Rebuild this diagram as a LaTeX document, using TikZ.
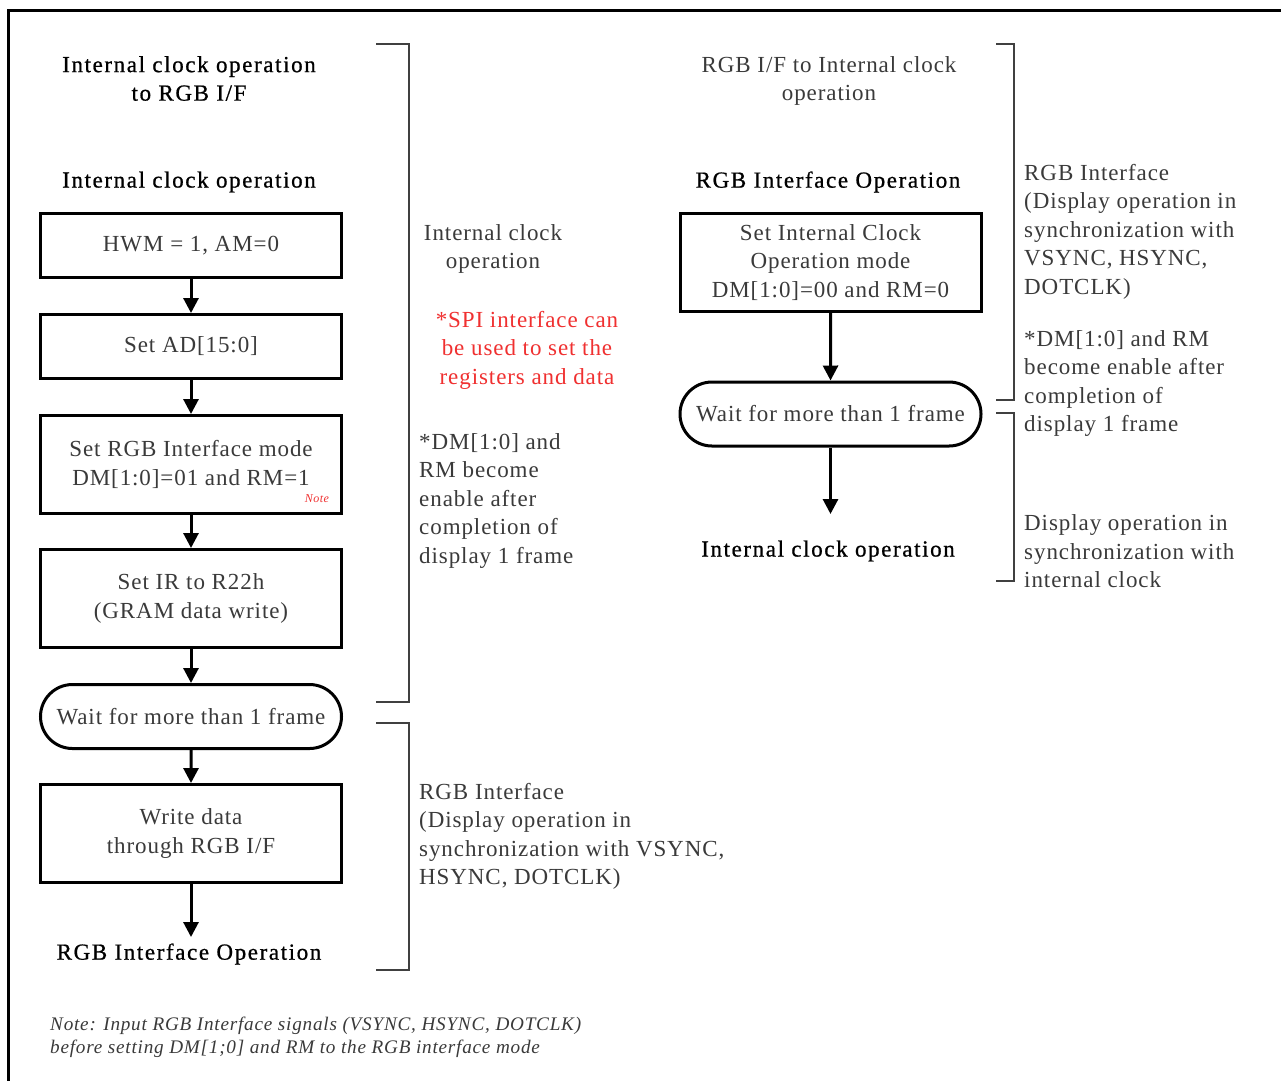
\documentclass[tikz,border=0pt]{standalone}
\usepackage{fontspec}
\setmainfont{Liberation Serif}[LetterSpace=4]
\newfontfamily\headfont{Liberation Serif}[LetterSpace=7, FakeBold=0.8]
\usetikzlibrary{arrows.meta,shapes.misc}
\definecolor{txtgray}{HTML}{3A3A3A}
\definecolor{redtxt}{HTML}{F03030}
\definecolor{brk}{HTML}{404040}
\tikzset{
  bodyfont/.style={font=\fontsize{23}{28.5}\selectfont},
  stepbox/.style={draw, line width=3pt, minimum width=301pt, inner sep=0pt, align=center, bodyfont, text=txtgray},
  waitbox/.style={draw, rounded rectangle, line width=3pt, minimum width=301pt, minimum height=64pt, inner sep=0pt, align=center, bodyfont, text=txtgray},
  heading/.style={font=\headfont\fontsize{23}{28.5}\selectfont, text=black, align=center, inner sep=0pt, yshift=-2.5pt},
  plain/.style={bodyfont, text=txtgray, inner sep=0pt, yshift=-2pt},
  arr/.style={line width=3pt, -{Triangle[width=15pt,length=15pt]}},
  bracket/.style={line width=1.3pt, draw=brk},
}
\begin{document}
\begin{tikzpicture}[x=1pt,y=-1pt]
\clip (0,0) rectangle (1281,1080);
\fill[white] (0,0) rectangle (1281,1080);
\draw[line width=3pt] (8.5,10) rectangle (1300,1100);

% left column
\node[heading] (h1) at (189,76) {Internal clock operation\\to RGB I/F};
\node[heading] (h2) at (189,179.5) {Internal clock operation};
\node[stepbox, minimum height=64pt] (b1) at (191,245.5) {HWM = 1, AM=0};
\node[stepbox, minimum height=64pt] (b2) at (191,346.5) {Set AD[15:0]};
\node[stepbox, minimum height=98pt] (b3) at (191,464.5) {Set RGB Interface mode\\DM[1:0]=01 and RM=1};
\node[text=redtxt, font=\fontsize{12}{14}\selectfont\itshape, inner sep=0pt] (nt) at (317,499) {Note};
\node[stepbox, minimum height=98pt] (b4) at (191,598.5) {Set IR to R22h\\(GRAM data write)};
\node[waitbox] (w1) at (191,716.5) {Wait for more than 1 frame};
\node[stepbox, minimum height=98pt] (b5) at (191,833.5) {Write data\\through RGB I/F};
\node[heading] (h3) at (189,951.5) {RGB Interface Operation};
\coordinate (e1) at (191,937);

\draw[arr] (b1) -- (b2);
\draw[arr] (b2) -- (b3);
\draw[arr] (b3) -- (b4);
\draw[arr] (b4) -- (w1);
\draw[arr] (w1) -- (b5);
\draw[arr] (b5) -- (e1);

% left brackets
\draw[bracket] (376,44) -- (409,44) -- (409,702) -- (376,702);
\draw[bracket] (376,723) -- (409,723) -- (409,970) -- (376,970);

\node[plain, align=center] (t1) at (493,247) {Internal clock\\operation};
\node[plain, align=center, text=redtxt] (t2) at (527,348) {*SPI interface can\\be used to set the\\registers and data};
\node[plain, align=left, anchor=west] (t3) at (419,498.5) {*DM[1:0] and\\RM become\\enable after\\completion of\\display 1 frame};
\node[plain, align=left, anchor=west] (t4) at (419,834.5) {RGB Interface\\(Display operation in\\synchronization with VSYNC,\\HSYNC, DOTCLK)};

% right column
\node[plain, align=center] (h4) at (829,79) {RGB I/F to Internal clock\\operation};
\node[heading] (h5) at (828,179.5) {RGB Interface Operation};
\node[stepbox, minimum height=98pt] (r1) at (830.5,262.5) {Set Internal Clock\\Operation mode\\DM[1:0]=00 and RM=0};
\node[waitbox] (rw) at (830.5,414) {Wait for more than 1 frame};
\coordinate (e2) at (830.5,514);
\node[heading] (h6) at (828,548.5) {Internal clock operation};
\draw[arr] (r1) -- (rw);
\draw[arr] (rw) -- (e2);

\draw[bracket] (996,44) -- (1014,44) -- (1014,400) -- (996,400);
\draw[bracket] (996,413) -- (1014,413) -- (1014,581) -- (996,581);

\node[plain, align=left, anchor=west] (t5) at (1024,229.5) {RGB Interface\\(Display operation in\\synchronization with\\VSYNC, HSYNC,\\DOTCLK)};
\node[plain, align=left, anchor=west] (t6) at (1024,381.5) {*DM[1:0] and RM\\become enable after\\completion of\\display 1 frame};
\node[plain, align=left, anchor=west] (t7) at (1024,549.5) {Display operation in\\synchronization with\\internal clock};

% note
\node[plain, align=left, anchor=west, font=\fontsize{19.2}{23}\selectfont\itshape] (nb) at (50,1035.5) {Note: Input RGB Interface signals (VSYNC, HSYNC, DOTCLK)\\before setting DM[1;0] and RM to the RGB interface mode};
\end{tikzpicture}
\end{document}
